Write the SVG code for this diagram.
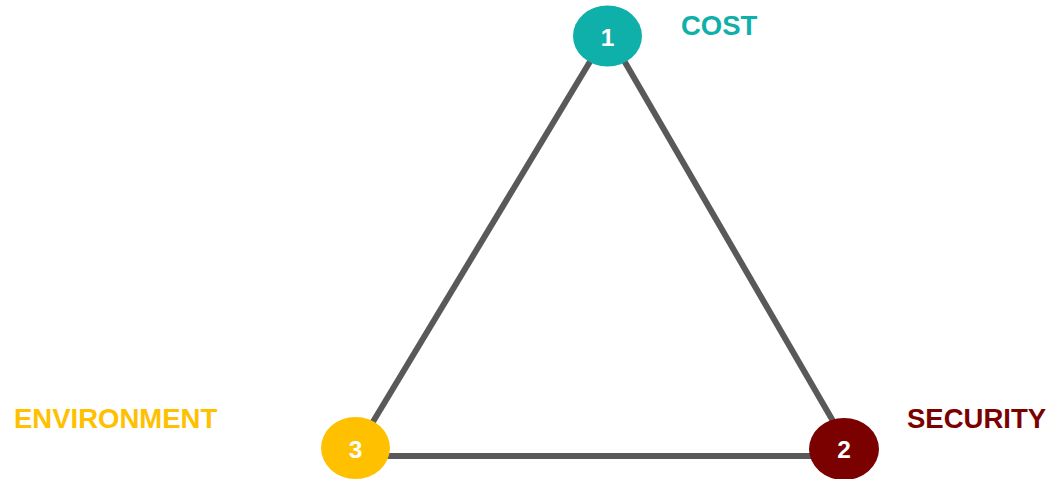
<svg xmlns="http://www.w3.org/2000/svg" width="1050" height="479" viewBox="0 0 1050 479">
<style>
.edge{stroke:#595959;stroke-width:6;fill:none}
.lbl{font-family:"Liberation Sans",Arial,sans-serif;font-weight:bold;font-size:27.5px}
.num{font-family:"Liberation Sans",Arial,sans-serif;font-weight:bold;font-size:24.5px;fill:#fff;text-anchor:middle}
</style>
<rect width="1050" height="479" fill="#fff"/>
<g id="connectors">
<line class="edge" x1="600" y1="45" x2="362" y2="440"/>
<line class="edge" x1="615" y1="45" x2="844" y2="440"/>
<line class="edge" x1="360" y1="456" x2="840" y2="456"/>
</g>
<g id="node1">
<ellipse cx="607.5" cy="36" rx="34.5" ry="30.5" fill="#0FAFAA"/>
<text class="num" x="607.5" y="46">1</text>
</g>
<g id="node2">
<ellipse cx="844" cy="449" rx="35" ry="31" fill="#7B0000"/>
<text class="num" x="844" y="458">2</text>
</g>
<g id="node3">
<ellipse cx="355.5" cy="448" rx="34.5" ry="31" fill="#FFC000"/>
<text class="num" x="355.5" y="458">3</text>
</g>
<g id="label-cost"><text class="lbl" x="681" y="35" fill="#0FAFAA">COST</text></g>
<g id="label-security"><text class="lbl" x="907" y="428" fill="#7B0000">SECURITY</text></g>
<g id="label-environment"><text class="lbl" x="14" y="428" fill="#FFC000">ENVIRONMENT</text></g>
</svg>
